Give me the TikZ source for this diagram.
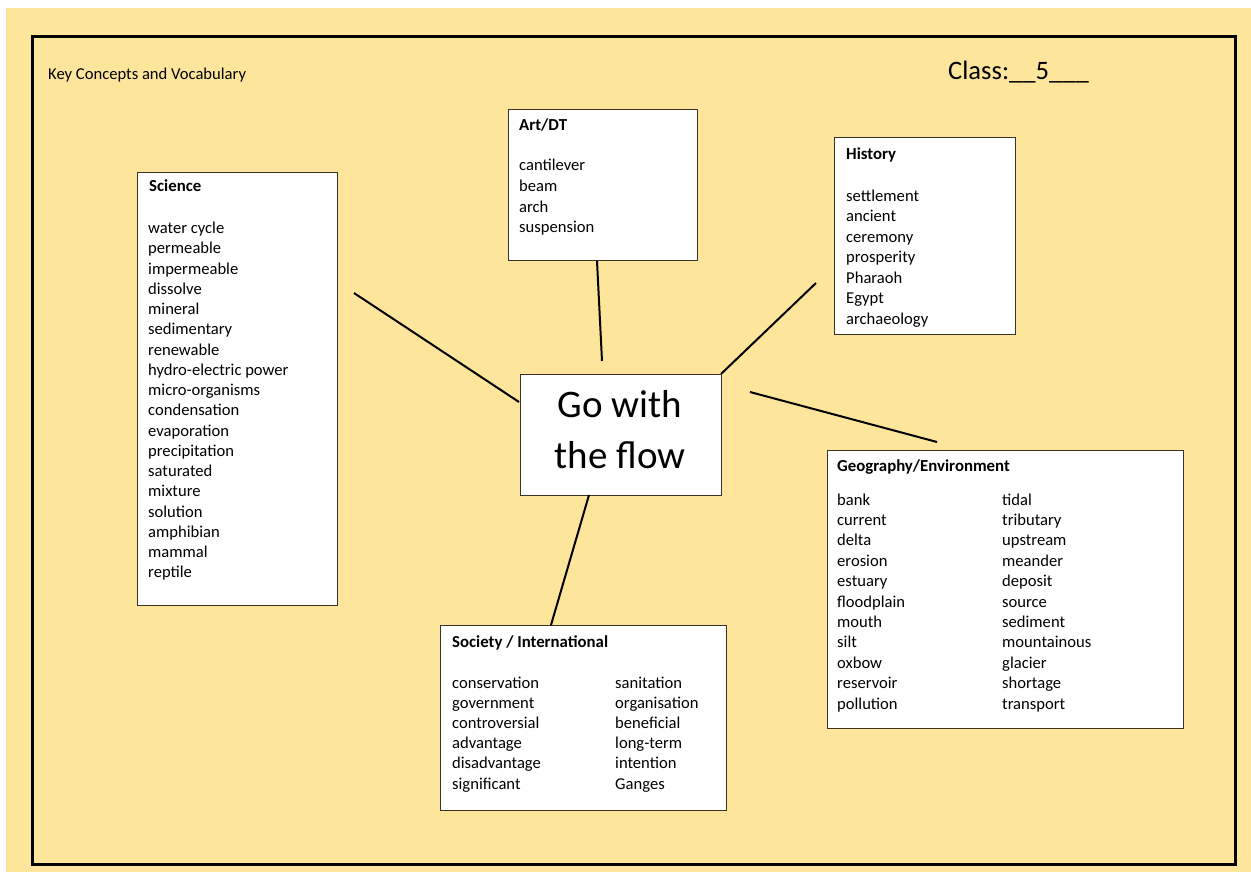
\documentclass[tikz,border=0pt]{standalone}
\usepackage{fontspec}
\setmainfont{Carlito}
\definecolor{bgyellow}{RGB}{254,229,156}
\definecolor{boxline}{RGB}{60,50,35}
\begin{document}
\begin{tikzpicture}[x=1pt,y=-1pt,
  vbox/.style={draw=boxline, line width=1.3pt, fill=white, inner sep=0pt, anchor=north west},
  head/.style={font=\fontsize{16.8}{19}\selectfont\bfseries, inner sep=0pt, anchor=base west},
  item/.style={font=\fontsize{16.6}{19}\selectfont, inner sep=0pt, anchor=base west},
  conn/.style={line width=2pt, black},
  big/.style={font=\fontsize{39}{44}\selectfont, inner sep=0pt, anchor=base}]
\useasboundingbox (0,0) rectangle (1251,872);
\fill[white] (0,0) rectangle (1251,872);
\fill[bgyellow] (6,8) rectangle (1251,872);
\draw[line width=3pt] (32,37) rectangle (1235,864);

\node[item] (title) at (48,80) {Key Concepts and Vocabulary};
\node[item, font=\fontsize{26.6}{30}\selectfont] (class) at (948,80) {Class:\_\_5\_\_\_};

% boxes
\node[vbox, minimum width=200, minimum height=433] (sci) at (137,172) {};
\node[vbox, minimum width=189, minimum height=151] (art) at (508,109) {};
\node[vbox, minimum width=181, minimum height=197] (his) at (834,137) {};
\node[vbox, minimum width=201, minimum height=121] (ctr) at (520,374) {};
\node[vbox, minimum width=356, minimum height=278] (geo) at (827,450) {};
\node[vbox, minimum width=286, minimum height=185] (soc) at (440,625) {};

% centre text
\node[big] (ctr-a) at (620,417) {Go with};
\node[big] (ctr-b) at (620,468) {the flow};

% Science
\node[head] (sci-h) at (149,191) {Science};
\foreach \w [count=\i] in {water cycle,permeable,impermeable,dissolve,mineral,sedimentary,renewable,hydro-electric power,micro-organisms,condensation,evaporation,precipitation,saturated,mixture,solution,amphibian,mammal,reptile}
  \node[item] (sci-\i) at (148,{233.5+(\i-1)*20.25}) {\w};

% Art/DT
\node[head] (art-h) at (519,131) {Art/DT};
\foreach \w [count=\i] in {cantilever,beam,arch,suspension}
  \node[item] (art-\i) at (519,{171+(\i-1)*20.6}) {\w};

% History
\node[head] (his-h) at (846,160) {History};
\foreach \w [count=\i] in {settlement,ancient,ceremony,prosperity,Pharaoh,Egypt,archaeology}
  \node[item] (his-\i) at (846,{201+(\i-1)*20.5}) {\w};

% Geography
\node[head] (geo-h) at (837,471) {Geography/Environment};
\foreach \w [count=\i] in {bank,current,delta,erosion,estuary,floodplain,mouth,silt,oxbow,reservoir,pollution}
  \node[item] (geo-a\i) at (837,{505+(\i-1)*20.4}) {\w};
\foreach \w [count=\i] in {tidal,tributary,upstream,meander,deposit,source,sediment,mountainous,glacier,shortage,transport}
  \node[item] (geo-b\i) at (1002,{505+(\i-1)*20.4}) {\w};

% Society
\node[head] (soc-h) at (452,647) {Society / International};
\foreach \w [count=\i] in {conservation,government,controversial,advantage,disadvantage,significant}
  \node[item] (soc-a\i) at (452,{688+(\i-1)*20.2}) {\w};
\foreach \w [count=\i] in {sanitation,organisation,beneficial,long-term,intention,Ganges}
  \node[item] (soc-b\i) at (615,{688+(\i-1)*20.2}) {\w};

% connectors
\coordinate (p-sci) at (354,293);
\coordinate (q-sci) at (519,402);
\coordinate (p-art) at (597,261);
\coordinate (q-art) at (602,361);
\coordinate (p-his) at (816,283);
\coordinate (q-his) at (721,374);
\coordinate (p-geo) at (937,442);
\coordinate (q-geo) at (750,392);
\coordinate (p-soc) at (551,625);
\coordinate (q-soc) at (589,495);
\draw[conn] (p-sci) -- (q-sci);
\draw[conn] (p-art) -- (q-art);
\draw[conn] (p-his) -- (q-his);
\draw[conn] (p-geo) -- (q-geo);
\draw[conn] (p-soc) -- (q-soc);
\end{tikzpicture}
\end{document}
